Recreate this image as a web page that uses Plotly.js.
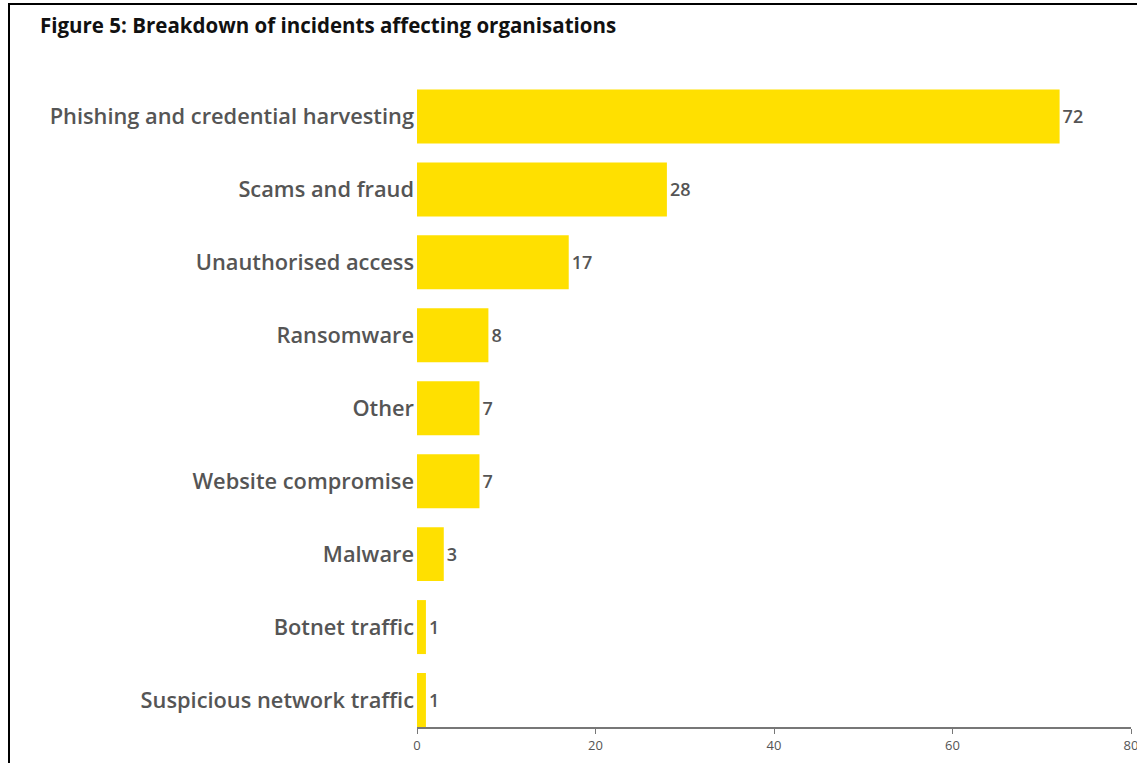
<!DOCTYPE html>
<html>
<head>
<meta charset="utf-8">
<script src="https://cdn.plot.ly/plotly-3.0.1.min.js"></script>
<style>
html,body{margin:0;padding:0;background:#fff;}
#chart{position:absolute;left:0;top:0;width:1137px;height:763px;}
#frame{position:absolute;left:8px;top:3px;right:0;bottom:0;border-left:2px solid #000;border-top:2px solid #000;pointer-events:none;}
</style>
</head>
<body>
<div id="chart"></div>
<div id="frame"></div>
<script>
const categories = [
  "Phishing and credential harvesting",
  "Scams and fraud",
  "Unauthorised access",
  "Ransomware",
  "Other",
  "Website compromise",
  "Malware",
  "Botnet traffic",
  "Suspicious network traffic"
];
const incidents = [72, 28, 17, 8, 7, 7, 3, 1, 1];
const xTicks = [0, 20, 40, 60, 80];

const catBottomUp = categories.slice().reverse();
const valBottomUp = incidents.slice().reverse();

const FONT = '"Open Sans", "Noto Sans", sans-serif';

const trace = {
  type: 'bar',
  orientation: 'h',
  y: catBottomUp,
  x: valBottomUp,
  text: valBottomUp.map(String),
  textposition: 'outside',
  textfont: {family: FONT, size: 18, color: '#555555', weight: 600},
  cliponaxis: false,
  marker: {color: '#FFE000', line: {width: 0}},
  width: 0.74,
  hoverinfo: 'none'
};

const layout = {
  width: 1137,
  height: 763,
  margin: {l: 417, r: 6, t: 80, b: 36},
  paper_bgcolor: '#ffffff',
  plot_bgcolor: '#ffffff',
  showlegend: false,
  font: {family: FONT, color: '#555555'},
  title: {
    text: '<b>Figure 5: Breakdown of incidents affecting organisations</b>',
    font: {family: FONT, size: 20.5, color: '#111111', weight: 600},
    x: 40/1137, xanchor: 'left', xref: 'container',
    y: 1 - 26/763, yanchor: 'middle', yref: 'container'
  },
  xaxis: {
    range: [0, 80],
    tickvals: xTicks,
    ticktext: xTicks.map(String),
    showgrid: false,
    zeroline: false,
    showline: true,
    linecolor: '#777777',
    linewidth: 2,
    ticks: 'outside',
    ticklen: 5,
    tickwidth: 1,
    tickcolor: '#777777',
    tickfont: {size: 13, color: '#555555'},
    ticklabeloverflow: 'allow',
    fixedrange: true
  },
  yaxis: {
    type: 'category',
    categoryorder: 'array',
    categoryarray: catBottomUp,
    range: [-0.37, 8.5],
    showgrid: false,
    zeroline: false,
    showline: false,
    ticks: '',
    ticklabelstandoff: 2,
    tickfont: {size: 21.8, color: '#555555', weight: 600},
    fixedrange: true
  }
};

Plotly.newPlot('chart', [trace], layout, {staticPlot: true, displayModeBar: false});
</script>
</body>
</html>
